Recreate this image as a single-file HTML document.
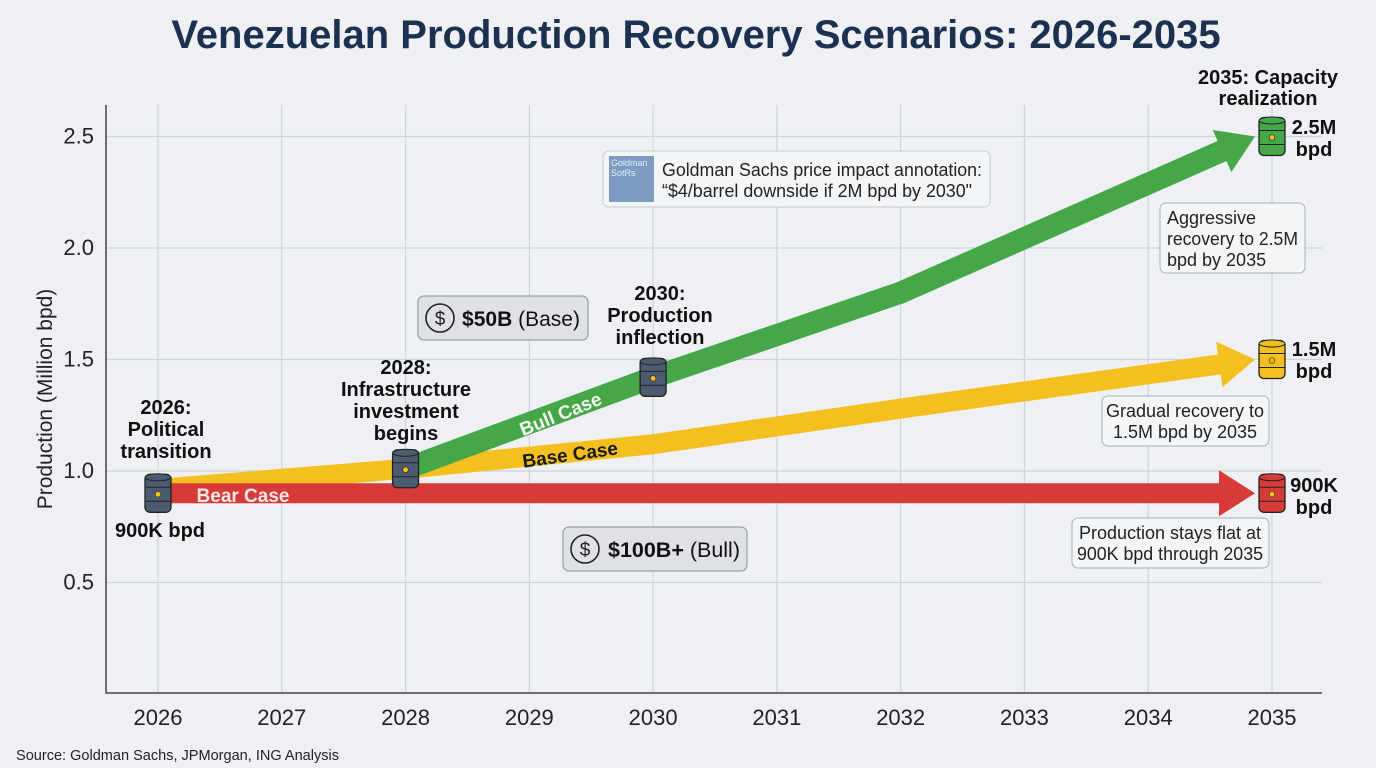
<!DOCTYPE html>
<html><head><meta charset="utf-8"><style>
html,body{margin:0;padding:0;background:#eef0f3;}
svg{display:block;font-family:"Liberation Sans",sans-serif;}
</style></head><body>
<svg id="chart" width="1376" height="768" viewBox="0 0 1376 768" xmlns="http://www.w3.org/2000/svg">
<rect width="1376" height="768" fill="#eef0f3"/>
<text x="696" y="48" text-anchor="middle" font-weight="bold" font-size="40" fill="#1c3050">Venezuelan Production Recovery Scenarios: 2026-2035</text>
<g id="grid"></g>
<g id="axes"></g>
<g id="series"></g>
<g id="annotations">
  <g>
    <rect x="603" y="151" width="387" height="56" rx="6" fill="#f4f5f7" stroke="#c8ccd2"/>
    <rect x="609" y="156" width="45" height="46" fill="#7c9cc4"/>
    <text x="611" y="166" font-size="9" fill="#e8eef6">Goldman</text>
    <text x="611" y="176" font-size="9" fill="#e8eef6">SotRs</text>
    <text x="662" y="176" font-size="18" fill="#222" textLength="320" lengthAdjust="spacingAndGlyphs">Goldman Sachs price impact annotation:</text>
    <text x="662" y="197" font-size="18" fill="#222" textLength="310" lengthAdjust="spacingAndGlyphs">“$4/barrel downside if 2M bpd by 2030"</text>
  </g>
  <g>
    <rect x="418" y="296" width="170" height="44" rx="6" fill="#dfe1e4" stroke="#8a8f96"/>
    <circle cx="440" cy="318" r="14" fill="none" stroke="#222" stroke-width="1.6"/>
    <text x="440" y="325" text-anchor="middle" font-size="19" fill="#222">$</text>
    <text x="462" y="326" font-size="21" fill="#111" textLength="118" lengthAdjust="spacingAndGlyphs"><tspan font-weight="bold">$50B</tspan> (Base)</text>
  </g>
  <g>
    <rect x="563" y="527" width="184" height="44" rx="6" fill="#dfe1e4" stroke="#8a8f96"/>
    <circle cx="585" cy="549" r="14" fill="none" stroke="#222" stroke-width="1.6"/>
    <text x="585" y="556" text-anchor="middle" font-size="19" fill="#222">$</text>
    <text x="608" y="557" font-size="21" fill="#111" textLength="132" lengthAdjust="spacingAndGlyphs"><tspan font-weight="bold">$100B+</tspan> (Bull)</text>
  </g>
  <g>
    <rect x="1160" y="203" width="145" height="70" rx="6" fill="#f4f5f7" stroke="#aab0b8"/>
    <text x="1167" y="224" font-size="18" fill="#222">Aggressive</text>
    <text x="1167" y="245" font-size="18" fill="#222" textLength="131" lengthAdjust="spacingAndGlyphs">recovery to 2.5M</text>
    <text x="1167" y="266" font-size="18" fill="#222">bpd by 2035</text>
  </g>
  <g>
    <rect x="1102" y="396" width="167" height="50" rx="6" fill="#f4f5f7" stroke="#aab0b8"/>
    <text x="1185" y="417" text-anchor="middle" font-size="18" fill="#222">Gradual recovery to</text>
    <text x="1185" y="438" text-anchor="middle" font-size="18" fill="#222">1.5M bpd by 2035</text>
  </g>
  <g>
    <rect x="1072" y="518" width="197" height="50" rx="6" fill="#f4f5f7" stroke="#aab0b8"/>
    <text x="1170" y="539" text-anchor="middle" font-size="18" fill="#222">Production stays flat at</text>
    <text x="1170" y="560" text-anchor="middle" font-size="18" fill="#222" textLength="186" lengthAdjust="spacingAndGlyphs">900K bpd through 2035</text>
  </g>
  <g font-weight="bold" fill="#111" text-anchor="middle" font-size="20">
    <text><tspan x="166" y="414">2026:</tspan><tspan x="166" y="436">Political</tspan><tspan x="166" y="458">transition</tspan></text>
    <text x="160" y="537">900K bpd</text>
    <text><tspan x="406" y="374">2028:</tspan><tspan x="406" y="396">Infrastructure</tspan><tspan x="406" y="418">investment</tspan><tspan x="406" y="440">begins</tspan></text>
    <text><tspan x="660" y="300">2030:</tspan><tspan x="660" y="322">Production</tspan><tspan x="660" y="344">inflection</tspan></text>
    <text><tspan x="1268" y="84">2035: Capacity</tspan><tspan x="1268" y="105">realization</tspan></text>
    <text><tspan x="1314" y="134">2.5M</tspan><tspan x="1314" y="156">bpd</tspan></text>
    <text><tspan x="1314" y="356">1.5M</tspan><tspan x="1314" y="378">bpd</tspan></text>
    <text><tspan x="1314" y="492">900K</tspan><tspan x="1314" y="514">bpd</tspan></text>
  </g>
</g>
<text x="16" y="760" font-size="15" fill="#222" textLength="323" lengthAdjust="spacingAndGlyphs">Source: Goldman Sachs, JPMorgan, ING Analysis</text>
<script>
const years = [2026,2027,2028,2029,2030,2031,2032,2033,2034,2035];
const yTicks = [0.5,1.0,1.5,2.0,2.5];
const yTickLabels = ["0.5","1.0","1.5","2.0","2.5"];
const bearYears = [2026,2035];
const bearValues = [0.9,0.9];
const baseYears = [2026,2028,2030,2032,2035];
const baseValues = [0.92,1.01,1.12,1.28,1.5];
const bullYears = [2028,2030,2032,2035];
const bullValues = [1.01,1.42,1.8,2.5];

const NS="http://www.w3.org/2000/svg";
const L=106,R=1322,T=105,B=693;
function xs(y){return 158+(y-2026)*(1272-158)/9;}
function ys(v){return 694-v*223;}
function mk(tag,attrs,parent){const e=document.createElementNS(NS,tag);for(const k in attrs)e.setAttribute(k,attrs[k]);parent.appendChild(e);return e;}
const grid=document.getElementById('grid'),axes=document.getElementById('axes'),series=document.getElementById('series');
years.forEach(y=>{
  const l=mk('line',{x1:xs(y),x2:xs(y),y1:T,y2:B,stroke:'#cfd3d8','stroke-width':1.2},grid);
  
  
  const t=mk('text',{x:xs(y),y:725,'text-anchor':'middle','font-size':22,fill:'#222'},axes);
  t.textContent=y;
  
  
});
yTicks.forEach((v,i)=>{
  const l=mk('line',{x1:L,x2:R,y1:ys(v),y2:ys(v),stroke:'#cfd3d8','stroke-width':1.2},grid);
  
  
  const t=mk('text',{x:L-12,y:ys(v)+7,'text-anchor':'end','font-size':22,fill:'#222'},axes);
  t.textContent=yTickLabels[i];
  
  
});
const ax=mk('path',{d:`M${L} ${T} V${B} H${R}`,fill:'none',stroke:'#444','stroke-width':1.5},axes);


const yt=mk('text',{x:0,y:0,transform:`translate(52 399) rotate(-90)`,'text-anchor':'middle','font-size':21,fill:'#222'},axes);
yt.textContent='Production (Million bpd)';



function drawArrow(yrs,vals,color,width,name){
  const pts=yrs.map((y,i)=>[xs(y),ys(vals[i])]);
  const n=pts.length;const tip=[pts[n-1][0]-17,pts[n-1][1]];
  const p=pts[n-2];const dx=tip[0]-p[0],dy=tip[1]-p[1];const len=Math.hypot(dx,dy);
  const ux=dx/len,uy=dy/len,hl=36,hw=23;
  const base=[tip[0]-ux*hl,tip[1]-uy*hl];
  const line=pts.slice(0,n-1).concat([[base[0]+ux*2,base[1]+uy*2]]);
  const g=mk('g',{},series);
  
  
  mk('polyline',{points:line.map(q=>q.join(',')).join(' '),fill:'none',stroke:color,'stroke-width':width,'stroke-linejoin':'miter'},g);
  mk('polygon',{points:`${tip[0]},${tip[1]} ${base[0]-uy*hw},${base[1]+ux*hw} ${base[0]+uy*hw},${base[1]-ux*hw}`,fill:color},g);
}
drawArrow(baseYears,baseValues,'#f4c020',20,'base-case-arrow');
drawArrow(bullYears,bullValues,'#46a748',22,'bull-case-arrow');
drawArrow(bearYears,bearValues,'#d63b38',20,'bear-case-arrow');

function barrel(x,y,color,name){
  const g=mk('g',{transform:`translate(${x} ${y})`},series);
  
  
  mk('rect',{x:-13,y:-19,width:26,height:38,rx:5,fill:color,stroke:'#222','stroke-width':1.3},g);
  mk('ellipse',{cx:0,cy:-16,rx:13,ry:3.5,fill:color,stroke:'#222','stroke-width':1},g);
  mk('line',{x1:-13,x2:13,y1:-6,y2:-6,stroke:'#222','stroke-width':1},g);
  mk('line',{x1:-13,x2:13,y1:8,y2:8,stroke:'#222','stroke-width':1},g);
  mk('circle',{cx:0,cy:1,r:2.8,fill:'#f2c21a',stroke:'#222','stroke-width':0.6},g);
}
barrel(xs(2026),ys(0.9),'#4d5b70','barrel-2026');
barrel(xs(2028),ys(1.01),'#4d5b70','barrel-2028');
barrel(xs(2030),ys(1.42),'#4d5b70','barrel-2030');
barrel(xs(2035),ys(bullValues[bullValues.length-1]),'#46a748','barrel-bull-2035');
barrel(xs(2035),ys(baseValues[baseValues.length-1]),'#f4c020','barrel-base-2035');
barrel(xs(2035),ys(bearValues[bearValues.length-1]),'#d63b38','barrel-bear-2035');

function lbl(txt,x,y,ang,fill,name){
  const t=mk('text',{x:0,y:0,transform:`translate(${x} ${y}) rotate(${ang})`,'text-anchor':'middle','font-size':19,'font-weight':'bold',fill:fill},series);
  t.textContent=txt;
  
  
}
lbl('Bear Case',243,502,0,'#fde9e8','bear-case-label');
lbl('Base Case',571,461,-8,'#1a1a1a','base-case-label');
lbl('Bull Case',563,420,-22,'#f0f8ef','bull-case-label');
</script>
</svg>
</body></html>
